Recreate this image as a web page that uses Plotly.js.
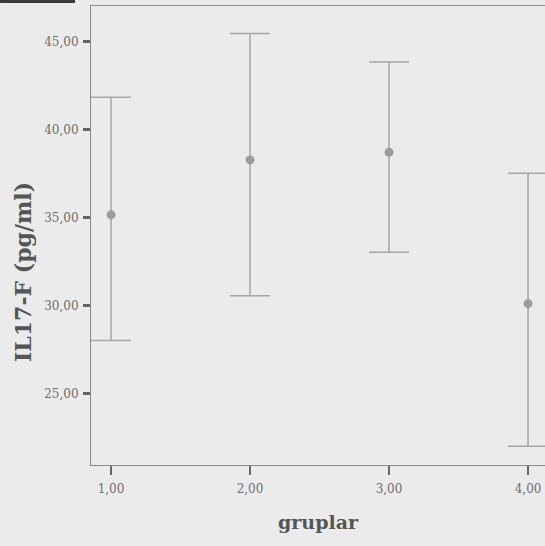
<!DOCTYPE html>
<html>
<head>
<meta charset="utf-8">
<script src="https://cdn.plot.ly/plotly-3.0.1.min.js"></script>
<style>
html,body{margin:0;padding:0;background:#ebebeb;}
#chart{width:545px;height:546px;}
</style>
</head>
<body>
<div id="chart"></div>
<script>
// Data
var groups = [1, 2, 3, 4];
var groupLabels = ["1,00", "2,00", "3,00", "4,00"];
var means = [35.15, 38.27, 38.70, 30.10];
var upper = [41.84, 45.45, 43.84, 37.51];
var lower = [28.00, 30.55, 33.03, 22.00];
var yTicks = [25, 30, 35, 40, 45];
var yTickLabels = ["25,00", "30,00", "35,00", "40,00", "45,00"];
var xTitle = "gruplar";
var yTitle = "IL17-F (pg/ml)";

var errPlus = upper.map(function (u, i) { return u - means[i]; });
var errMinus = lower.map(function (l, i) { return means[i] - l; });

var trace = {
  type: "scatter",
  mode: "markers",
  x: groups,
  y: means,
  marker: { size: 9, color: "#9c9c9c" },
  error_y: {
    type: "data",
    symmetric: false,
    array: errPlus,
    arrayminus: errMinus,
    color: "#a6a6a6",
    thickness: 1.5,
    width: 20
  },
  hoverinfo: "skip",
  showlegend: false
};

var layout = {
  width: 545,
  height: 546,
  margin: { l: 91, r: 0, t: 6, b: 81 },
  paper_bgcolor: "#ebebeb",
  plot_bgcolor: "#ebebeb",
  font: { family: "DejaVu Serif", color: "#666" },
  xaxis: {
    range: [0.856, 4.122],
    tickvals: groups,
    ticktext: groupLabels,
    ticks: "outside",
    ticklen: 9,
    tickwidth: 2.5,
    tickcolor: "#666",
    ticklabelstandoff: 4,
    tickfont: { family: "DejaVu Serif", size: 12, color: "#6e6e6e" },
    showgrid: false,
    zeroline: false,
    showline: true,
    linecolor: "#8a8a8a",
    linewidth: 1,
    mirror: true,
    title: {
      text: xTitle,
      font: { family: "DejaVu Serif", size: 19, color: "#555", weight: "bold" },
      standoff: 20
    }
  },
  yaxis: {
    range: [20.93, 47.02],
    tickvals: yTicks,
    ticktext: yTickLabels,
    ticks: "outside",
    ticklen: 7,
    tickwidth: 2.5,
    tickcolor: "#666",
    ticklabelstandoff: 2,
    tickfont: { family: "DejaVu Serif", size: 12, color: "#6e6e6e" },
    showgrid: false,
    zeroline: false,
    showline: true,
    linecolor: "#8a8a8a",
    linewidth: 1
  },
  annotations: [
    {
      text: yTitle,
      xref: "paper", yref: "paper",
      x: -0.1498, y: 0.4205,
      xanchor: "center", yanchor: "middle",
      textangle: -90,
      showarrow: false,
      font: { family: "DejaVu Serif", size: 22, color: "#555", weight: "bold" }
    }
  ],
  shapes: [
    {
      type: "rect", xref: "paper", yref: "paper",
      x0: -0.2004, x1: -0.0352, y0: 1.0065, y1: 1.0135,
      fillcolor: "#3a3a3a", line: { width: 0 }
    }
  ]
};

Plotly.newPlot("chart", [trace], layout, { displayModeBar: false, staticPlot: true });
</script>
</body>
</html>
